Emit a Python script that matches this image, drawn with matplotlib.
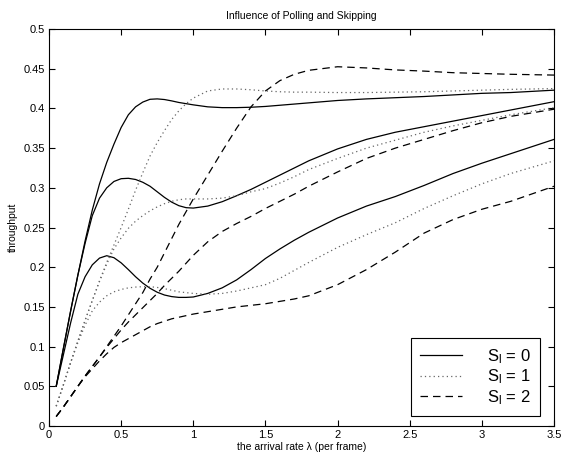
import matplotlib
matplotlib.use("Agg")
import matplotlib.pyplot as plt
from matplotlib.ticker import FormatStrFormatter

plt.rcParams['font.family'] = ['Liberation Sans', 'DejaVu Sans']

# arrival rate grid (per frame)
lam = [0.05, 0.1, 0.15, 0.2, 0.25, 0.3, 0.35, 0.4, 0.45, 0.5, 0.55, 0.6, 0.65,
       0.7, 0.75, 0.8, 0.85, 0.9, 0.95, 1.0, 1.1, 1.2, 1.3, 1.4, 1.5, 1.6,
       1.7, 1.8, 2.0, 2.2, 2.4, 2.6, 2.8, 3.0, 3.2, 3.5]

# S_l = 0 (solid)
s0_a = [0.05, 0.098, 0.145, 0.19, 0.233, 0.272, 0.305, 0.332, 0.355, 0.376,
        0.392, 0.402, 0.408, 0.4115, 0.412, 0.4112, 0.4095, 0.4075, 0.406,
        0.4045, 0.402, 0.401, 0.401, 0.4015, 0.4025, 0.404, 0.4055, 0.407,
        0.41, 0.412, 0.4135, 0.415, 0.417, 0.419, 0.42, 0.423]
s0_b = [0.05, 0.098, 0.145, 0.19, 0.23, 0.265, 0.287, 0.3, 0.308, 0.3115,
        0.312, 0.3105, 0.307, 0.302, 0.295, 0.288, 0.282, 0.2775, 0.275,
        0.2745, 0.277, 0.2825, 0.29, 0.298, 0.307, 0.316, 0.325, 0.334,
        0.349, 0.361, 0.37, 0.377, 0.384, 0.391, 0.398, 0.4085]
s0_c = [0.05, 0.09, 0.13, 0.166, 0.188, 0.203, 0.2115, 0.2145, 0.212, 0.2055,
        0.197, 0.188, 0.18, 0.1735, 0.1685, 0.165, 0.163, 0.162, 0.162,
        0.1625, 0.167, 0.174, 0.184, 0.197, 0.211, 0.223, 0.234, 0.244,
        0.262, 0.277, 0.289, 0.303, 0.318, 0.331, 0.343, 0.361]

# S_l = 1 (dotted)
s1_a = [0.025, 0.052, 0.08, 0.107, 0.133, 0.158, 0.183, 0.206, 0.228, 0.25,
        0.273, 0.297, 0.319, 0.34, 0.357, 0.372, 0.386, 0.397, 0.406, 0.413,
        0.422, 0.4245, 0.4245, 0.4235, 0.422, 0.421, 0.4205, 0.4205, 0.42,
        0.42, 0.4205, 0.421, 0.422, 0.423, 0.424, 0.425]
s1_b = [0.025, 0.052, 0.08, 0.107, 0.133, 0.158, 0.182, 0.204, 0.223, 0.237,
        0.249, 0.258, 0.265, 0.271, 0.276, 0.28, 0.283, 0.285, 0.286, 0.286,
        0.286, 0.287, 0.29, 0.295, 0.299, 0.306, 0.314, 0.323, 0.337, 0.35,
        0.36, 0.37, 0.378, 0.385, 0.392, 0.401]
s1_c = [0.025, 0.052, 0.08, 0.105, 0.127, 0.145, 0.156, 0.164, 0.169, 0.172,
        0.174, 0.175, 0.1755, 0.1755, 0.1745, 0.173, 0.171, 0.169, 0.168,
        0.167, 0.166, 0.167, 0.17, 0.174, 0.178, 0.186, 0.196, 0.206, 0.225,
        0.241, 0.256, 0.274, 0.29, 0.305, 0.318, 0.334]

# S_l = 2 (dashed)
s2_a = [0.012, 0.024, 0.037, 0.05, 0.063, 0.075, 0.087, 0.1, 0.113, 0.126,
        0.14, 0.154, 0.168, 0.185, 0.2, 0.218, 0.236, 0.254, 0.27, 0.286,
        0.316, 0.346, 0.375, 0.402, 0.422, 0.435, 0.443, 0.448, 0.4525,
        0.451, 0.4485, 0.447, 0.445, 0.444, 0.443, 0.442]
s2_b = [0.012, 0.024, 0.037, 0.05, 0.063, 0.075, 0.087, 0.099, 0.11, 0.121,
        0.131, 0.14, 0.149, 0.158, 0.167, 0.177, 0.186, 0.195, 0.205, 0.215,
        0.232, 0.245, 0.255, 0.264, 0.274, 0.283, 0.292, 0.302, 0.32, 0.337,
        0.35, 0.361, 0.372, 0.382, 0.39, 0.399]
s2_c = [0.012, 0.024, 0.037, 0.05, 0.062, 0.072, 0.082, 0.091, 0.099, 0.105,
        0.11, 0.115, 0.12, 0.125, 0.129, 0.132, 0.135, 0.137, 0.139, 0.141,
        0.144, 0.147, 0.15, 0.152, 0.154, 0.157, 0.16, 0.164, 0.178, 0.197,
        0.219, 0.243, 0.26, 0.273, 0.283, 0.302]

labels = [r'$\mathregular{S_l}$ = 0', r'$\mathregular{S_l}$ = 1',
          r'$\mathregular{S_l}$ = 2']

fig = plt.figure(figsize=(5.62, 4.55), dpi=100)
ax = fig.add_axes([0.0872, 0.0637, 0.8986, 0.8725])

solid = dict(color='black', lw=0.9, linestyle='-')
dotted = dict(color='0.4', lw=0.9, linestyle=(0, (1, 2.5)))
dashed = dict(color='black', lw=0.9, linestyle=(0, (6, 4)))

ax.plot(lam, s0_a, label=labels[0], **solid)
ax.plot(lam, s0_b, **solid)
ax.plot(lam, s0_c, **solid)
ax.plot(lam, s1_a, label=labels[1], **dotted)
ax.plot(lam, s1_b, **dotted)
ax.plot(lam, s1_c, **dotted)
ax.plot(lam, s2_a, label=labels[2], **dashed)
ax.plot(lam, s2_b, **dashed)
ax.plot(lam, s2_c, **dashed)

ax.set_xlim(0, 3.5)
ax.set_ylim(0, 0.5)
ax.set_xticks([0, 0.5, 1, 1.5, 2, 2.5, 3, 3.5])
ax.set_yticks([0, 0.05, 0.1, 0.15, 0.2, 0.25, 0.3, 0.35, 0.4, 0.45, 0.5])
ax.xaxis.set_major_formatter(FormatStrFormatter('%g'))
ax.yaxis.set_major_formatter(FormatStrFormatter('%g'))
ax.tick_params(direction='in', top=True, right=True, length=4, width=0.8,
               labelsize=8, pad=3)
for sp in ax.spines.values():
    sp.set_linewidth(0.8)

ax.set_title('Influence of Polling and Skipping', fontsize=7.5, pad=7)
ax.set_xlabel('the arrival rate λ (per frame)', fontsize=7.5, labelpad=1)
ax.set_ylabel('throughput', fontsize=7.5, labelpad=4)

leg = ax.legend(loc='lower right', bbox_to_anchor=(0.972, 0.025),
                borderaxespad=0, fontsize=12, handlelength=2.5,
                fancybox=False, framealpha=1, edgecolor='black',
                labelspacing=0.12, borderpad=0.55, handletextpad=1.5)
leg.get_frame().set_linewidth(0.8)

fig.savefig('out.png', dpi=100)
